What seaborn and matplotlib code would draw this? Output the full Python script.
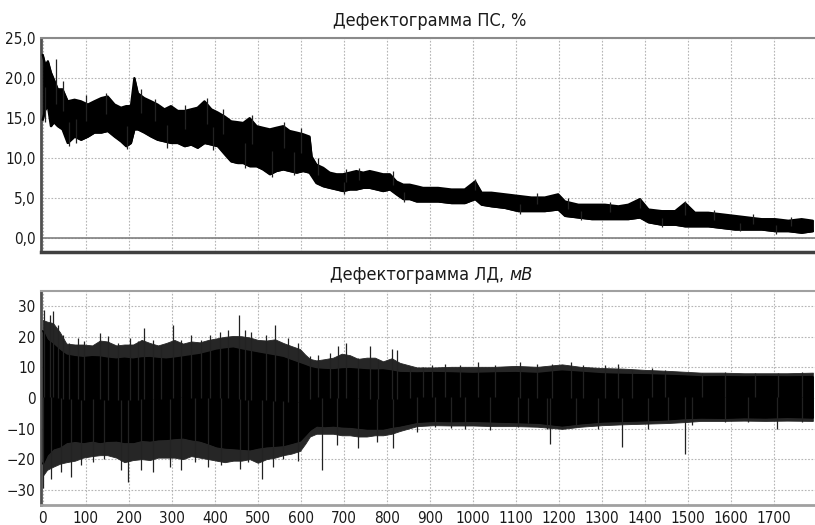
import numpy as np
import matplotlib
matplotlib.use("Agg")
import matplotlib.pyplot as plt
import seaborn as sns

# Дефектограмма ПС, % : envelope of the signal band
pc_x = [0, 6, 12, 19, 26, 35, 46, 58, 74, 89,
        105, 120, 136, 151, 167, 182, 194, 205, 213, 221,
        236, 252, 267, 283, 298, 314, 330, 345, 360, 376,
        392, 407, 423, 438, 453, 466, 481, 497, 512, 528,
        543, 559, 574, 590, 605, 620, 625, 636, 652, 667,
        683, 698, 714, 729, 745, 760, 776, 791, 807, 822,
        838, 853, 869, 884, 919, 950, 981, 1005, 1020, 1043,
        1074, 1105, 1136, 1167, 1198, 1214, 1245, 1276, 1307, 1338,
        1361, 1388, 1408, 1439, 1470, 1493, 1516, 1547, 1578, 1609,
        1640, 1671, 1702, 1733, 1764, 1790]
pc_hi = [22.9, 21.6, 22.1, 20.7, 19.8, 18.6, 18.6, 17.1, 17.3, 17.1,
         16.7, 17.1, 17.5, 17.7, 16.7, 16.3, 16.5, 16.5, 20.0, 18.1,
         17.5, 17.1, 16.7, 16.1, 16.5, 15.9, 15.9, 16.1, 16.3, 17.1,
         16.1, 15.7, 15.2, 14.6, 14.5, 14.4, 15.0, 14.0, 13.8, 13.6,
         13.8, 14.0, 13.4, 13.2, 13.0, 12.7, 10.2, 9.2, 8.8, 8.2,
         8.0, 8.0, 8.2, 8.4, 8.2, 8.4, 8.2, 8.0, 8.0, 7.1,
         6.7, 6.7, 6.5, 6.3, 6.3, 6.1, 6.1, 7.1, 5.7, 5.7,
         5.5, 5.3, 5.1, 5.1, 5.5, 4.6, 4.2, 4.2, 4.2, 4.0,
         4.2, 4.9, 3.6, 3.4, 3.4, 4.4, 3.2, 3.2, 3.0, 2.8,
         2.6, 2.4, 2.4, 2.2, 2.4, 2.2]
pc_lo = [14.8, 16.1, 16.5, 14.0, 14.5, 14.0, 13.6, 11.9, 12.7, 12.3,
         12.7, 13.2, 13.2, 13.4, 12.7, 12.1, 11.5, 11.9, 13.6, 13.6,
         13.2, 12.7, 12.3, 12.1, 11.9, 11.9, 11.5, 11.7, 11.3, 11.9,
         11.7, 11.5, 10.5, 9.6, 9.4, 9.4, 9.0, 9.0, 8.6, 8.0,
         8.4, 8.6, 8.4, 8.2, 8.4, 8.2, 7.8, 6.9, 6.5, 6.3,
         6.1, 5.9, 6.1, 6.1, 6.3, 6.3, 6.1, 5.9, 6.1, 5.5,
         4.9, 4.9, 4.6, 4.6, 4.6, 4.4, 4.4, 4.9, 4.2, 4.0,
         3.8, 3.4, 3.4, 3.4, 3.6, 2.8, 2.6, 2.4, 2.4, 2.4,
         2.4, 2.6, 2.0, 1.7, 1.7, 1.5, 1.5, 1.5, 1.3, 1.1,
         1.1, 1.1, 0.9, 0.9, 0.7, 0.9]
# single spikes sticking out of the band
pc_spk_x_up = [30, 48, 100, 148, 228, 262, 330, 381, 418, 487, 560, 600, 640,
               706, 735, 815, 1005, 1150, 1222, 1318, 1388, 1493, 1560, 1650, 1740]
pc_spk_up = [22.4, 19.6, 17.9, 18.1, 18.6, 17.4, 16.6, 17.5, 16.2, 15.4, 14.5, 13.8, 10.0,
             8.7, 8.8, 8.4, 7.4, 5.6, 5.0, 4.6, 5.0, 4.7, 3.6, 3.0, 2.7]
pc_spk_x_dn = [5, 60, 78, 195, 290, 395, 470, 533, 585, 700, 840, 1110, 1250, 1440, 1620, 1705]
pc_spk_dn = [14.5, 11.5, 11.9, 11.1, 11.3, 11.0, 8.8, 7.6, 7.9, 5.5, 4.5, 3.1, 2.3, 1.4, 0.9, 0.6]

# Дефектограмма ЛД, мВ : dense core and fuzzy outer edge of the signal
ld_x = [0, 10, 24, 40, 55, 75, 94, 115, 133, 150,
        171, 190, 210, 230, 249, 268, 287, 306, 326, 345,
        365, 385, 404, 423, 443, 462, 481, 500, 520, 540,
        559, 578, 598, 610, 621, 636, 655, 675, 695, 714,
        733, 753, 772, 791, 811, 830, 870, 910, 950, 1000,
        1050, 1100, 1150, 1207, 1250, 1300, 1350, 1400, 1450, 1490,
        1530, 1580, 1630, 1680, 1730, 1790]
ld_hi = [22.0, 19.0, 17.5, 15.5, 14.0, 13.5, 13.2, 13.5, 13.4, 13.0,
         12.7, 13.0, 12.7, 13.1, 13.2, 12.9, 12.7, 13.0, 13.4, 13.8,
         14.2, 14.9, 15.6, 16.0, 16.3, 15.7, 15.2, 14.7, 14.2, 13.7,
         13.2, 12.2, 11.2, 10.6, 10.0, 9.5, 9.3, 9.2, 9.5, 9.6,
         9.4, 9.2, 9.1, 9.2, 8.8, 8.3, 8.2, 8.3, 8.2, 8.0,
         8.2, 8.3, 8.0, 8.8, 8.4, 7.9, 7.7, 7.6, 7.4, 7.2,
         6.9, 7.0, 6.9, 7.0, 6.9, 7.0]
ld_lo = [-21.5, -18.5, -16.5, -15.8, -14.4, -14.0, -14.4, -13.9, -14.4, -14.0,
         -13.9, -14.4, -14.4, -13.7, -13.9, -13.5, -13.4, -13.1, -12.9, -13.5,
         -13.9, -14.8, -15.8, -16.2, -16.4, -16.6, -16.8, -16.2, -15.8, -15.6,
         -15.4, -14.7, -13.9, -12.1, -10.4, -9.0, -9.2, -9.0, -9.3, -9.4,
         -9.7, -10.0, -10.0, -10.0, -9.4, -9.0, -7.8, -7.5, -7.6, -7.5,
         -7.7, -7.9, -8.1, -9.0, -8.3, -7.7, -7.5, -7.3, -7.0, -6.6,
         -6.4, -6.5, -6.3, -6.4, -6.2, -6.4]
ld_out_hi = [25.5, 25.0, 24.5, 21.5, 17.8, 17.5, 17.5, 17.2, 18.8, 18.5,
             17.2, 17.5, 17.5, 19.0, 18.0, 17.2, 18.0, 19.0, 17.8, 18.5,
             18.2, 19.0, 19.5, 20.0, 20.3, 20.2, 19.8, 19.0, 18.8, 19.2,
             18.0, 17.0, 16.0, 14.2, 12.8, 12.3, 12.7, 13.2, 14.5, 14.0,
             12.8, 13.2, 13.2, 12.0, 13.0, 11.5, 10.0, 10.0, 10.2, 10.2,
             10.2, 10.5, 10.2, 11.0, 10.2, 9.8, 9.6, 9.2, 8.9, 8.6,
             8.3, 8.3, 8.1, 8.1, 8.1, 8.3]
ld_out_lo = [-25.5, -23.5, -22.5, -21.5, -21.0, -20.5, -19.5, -19.0, -18.7, -18.7,
             -19.5, -21.0, -20.3, -20.0, -20.3, -19.5, -19.5, -19.5, -20.0, -19.0,
             -19.5, -20.0, -20.5, -21.0, -20.5, -20.5, -20.0, -21.2, -20.0, -19.5,
             -18.7, -18.2, -17.3, -15.0, -12.6, -11.7, -11.7, -11.7, -12.2, -12.2,
             -12.6, -12.6, -12.2, -12.2, -11.7, -10.8, -9.2, -8.9, -9.0, -9.0,
             -9.2, -9.2, -9.4, -10.1, -9.4, -8.9, -8.6, -8.4, -8.2, -7.9,
             -7.5, -7.5, -7.4, -7.5, -7.4, -7.5]
ld_spk_x_up = [4, 16, 23, 35, 47, 62, 81, 97, 132, 151,
               174, 202, 221, 236, 256, 275, 302, 322, 345, 368,
               388, 411, 430, 456, 470, 485, 520, 540, 570, 594,
               621, 640, 667, 687, 706, 733, 760, 780, 811, 823,
               853, 884, 904, 935, 969, 1012, 1051, 1109, 1148, 1183,
               1229, 1256, 1307, 1338, 1369, 1416, 1447, 1532, 1586, 1656,
               1710, 1764]
ld_spk_up = [28.9, 27.3, 28.3, 24.0, 20.7, 18.0, 19.6, 18.6, 21.2, 20.2,
             18.0, 19.6, 18.6, 22.9, 19.1, 17.5, 24.0, 19.1, 20.7, 19.1,
             20.7, 21.7, 22.3, 27.3, 22.3, 21.7, 20.7, 24.0, 19.6, 18.0,
             13.6, 14.0, 14.6, 16.9, 18.0, 13.0, 16.9, 12.5, 16.0, 15.6,
             10.3, 10.3, 10.7, 11.1, 10.7, 11.9, 10.7, 11.9, 11.1, 11.1,
             11.9, 10.7, 10.7, 11.1, 9.2, 9.7, 9.2, 8.1, 8.6, 8.1,
             8.1, 8.6]
ld_spk_x_dn = [0, 19, 43, 66, 89, 116, 143, 182, 198, 229,
               256, 295, 322, 353, 384, 415, 458, 477, 509, 536,
               559, 594, 648, 683, 733, 776, 815, 869, 912, 950,
               981, 1040, 1105, 1128, 1171, 1179, 1240, 1291, 1346, 1408,
               1454, 1493, 1509, 1586, 1640, 1706, 1764]
ld_spk_dn = [-29.5, -26.4, -24.2, -25.8, -22.0, -21.0, -20.0, -23.6, -27.5, -23.6,
             -24.2, -22.5, -23.6, -21.0, -22.5, -22.0, -23.1, -21.0, -26.4, -22.5,
             -20.0, -20.5, -23.6, -15.4, -16.5, -14.4, -16.5, -11.1, -9.4, -9.7,
             -10.2, -10.5, -9.4, -8.3, -10.2, -14.9, -9.4, -10.2, -16.0, -10.0,
             -8.0, -18.2, -8.9, -8.0, -7.7, -10.0, -8.0]

x_ticks = list(range(0, 1800, 100))
pc_yticks = [0, 5, 10, 15, 20, 25]
ld_yticks = [-30, -20, -10, 0, 10, 20, 30]

sns.set_theme(style="white")
plt.rcParams['font.family'] = ['DejaVu Sans']
plt.rcParams['font.stretch'] = 'condensed'

fig = plt.figure(figsize=(8.15, 5.25), dpi=100)
ax1 = fig.add_axes([41 / 815, 1 - 252 / 525, 774 / 815, 214 / 525])
ax2 = fig.add_axes([41 / 815, 1 - 505 / 525, 774 / 815, 214 / 525])


def draw_band(ax, x, lo, hi, sx_up, s_up, sx_dn, s_dn, edge_lw):
    x = np.asarray(x, float)
    lo = np.asarray(lo, float)
    hi = np.asarray(hi, float)
    ax.fill_between(x, lo, hi, color='black', lw=0.8, zorder=3)
    sns.lineplot(x=x, y=hi, ax=ax, color='black', lw=edge_lw, zorder=3)
    sns.lineplot(x=x, y=lo, ax=ax, color='black', lw=edge_lw, zorder=3)
    mid = (lo + hi) / 2
    ax.vlines(sx_up, np.interp(sx_up, x, mid), s_up, color='#222222', lw=0.9, zorder=3)
    ax.vlines(sx_dn, np.interp(sx_dn, x, mid), s_dn, color='#222222', lw=0.9, zorder=3)


draw_band(ax1, pc_x, pc_lo, pc_hi, pc_spk_x_up, pc_spk_up, pc_spk_x_dn, pc_spk_dn, 1.6)
# fuzzy zone of the ЛД signal
ax2.fill_between(ld_x, ld_out_lo, ld_out_hi, color='#262626', lw=0.6,
                 edgecolor='#262626', zorder=2.5)
draw_band(ax2, ld_x, ld_lo, ld_hi, ld_spk_x_up, ld_spk_up, ld_spk_x_dn, ld_spk_dn, 1.0)

ax1.axhline(0, color='#808080', lw=1.2, zorder=2)

for ax in (ax1, ax2):
    ax.set_xlim(-4, 1795)
    ax.set_xticks(x_ticks)
    ax.set_axisbelow(True)
    ax.grid(True, ls=(0, (1.5, 1.5)), color='#b5b5b5', lw=0.8)
    ax.tick_params(length=0, labelsize=11, pad=4, colors='#1a1a1a')
    ax.set_xlabel('')
    ax.set_ylabel('')
    ax.spines['right'].set_visible(False)
    ax.spines['left'].set_color('#505050')
    ax.spines['left'].set_linewidth(2.0)

ax1.set_ylim(-1.7, 25)
ax1.set_yticks(pc_yticks)
ax1.set_yticklabels([f"{v:.1f}".replace('.', ',') for v in pc_yticks])
ax1.tick_params(labelbottom=False)
ax1.spines['top'].set_color('#8a8a8a')
ax1.spines['top'].set_linewidth(1.5)
ax1.spines['bottom'].set_color('#404040')
ax1.spines['bottom'].set_linewidth(2.5)

ax2.set_ylim(-35, 35)
ax2.set_yticks(ld_yticks)
ax2.set_yticklabels([str(v).replace('-', '\u2212') for v in ld_yticks])
ax2.set_xticklabels([str(v) for v in x_ticks])
ax2.spines['top'].set_color('#a0a0a0')
ax2.spines['top'].set_linewidth(1.5)
ax2.spines['bottom'].set_color('#a0a0a0')
ax2.spines['bottom'].set_linewidth(2.0)

fig.text(0.527, 1 - 21 / 525, "Дефектограмма ПС, %", ha='center', va='center',
         fontsize=13, color='#1a1a1a')
t = fig.text(330 / 815, 1 - 275 / 525, "Дефектограмма ЛД, ", ha='left', va='center',
             fontsize=13, color='#1a1a1a')
ax2.annotate("мВ", xy=(1, 0), xycoords=t, ha='left', va='bottom', fontsize=13,
             style='italic', color='#1a1a1a', annotation_clip=False)

fig.savefig("out.png", dpi=100)
